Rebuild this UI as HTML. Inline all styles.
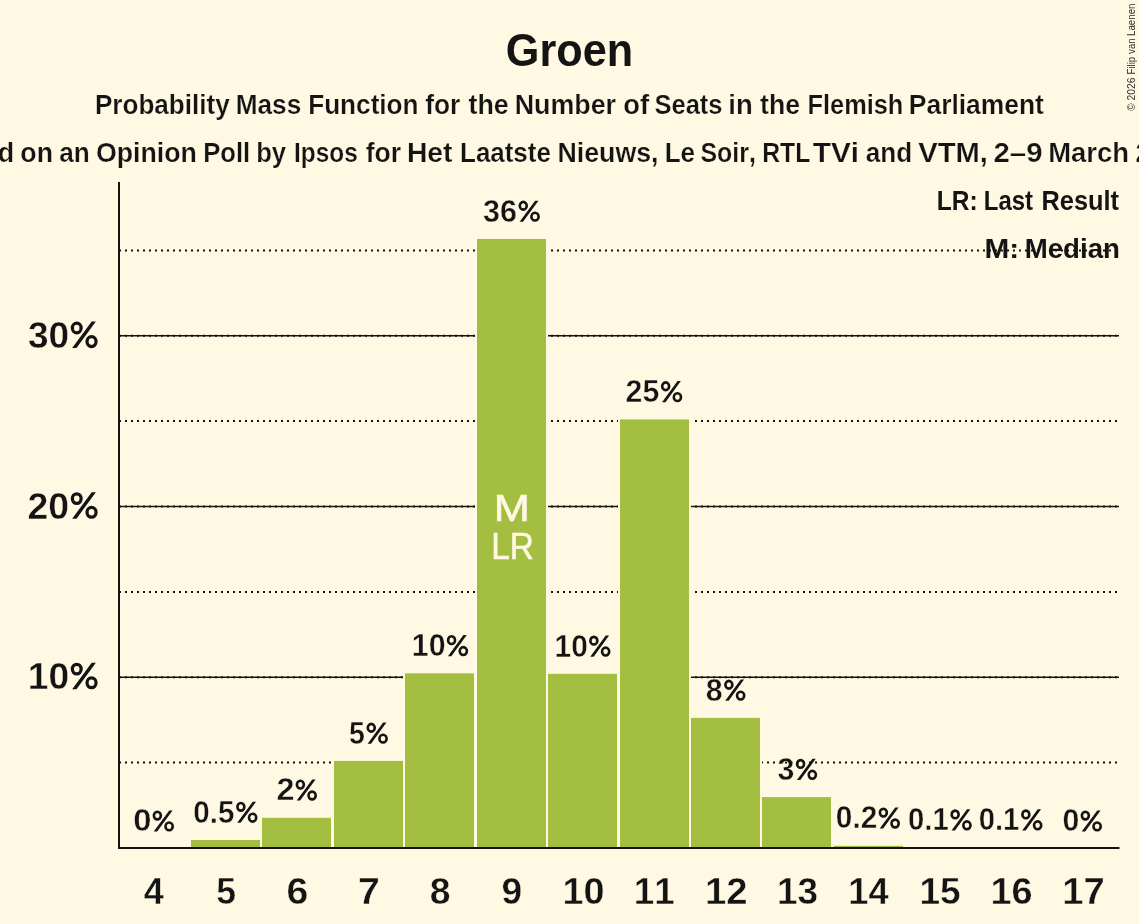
<!DOCTYPE html>
<html><head><meta charset="utf-8"><style>
html,body{margin:0;padding:0;background:#fff9e3;}
#w{will-change:transform;width:1139px;height:924px;overflow:hidden;}
svg{display:block;font-family:"Liberation Sans",sans-serif;font-kerning:none;}
</style></head><body><div id="w">
<svg width="1139" height="924" viewBox="0 0 1139 924">
<rect x="0" y="0" width="1139" height="924" fill="#fff9e3"/>
<line x1="119" y1="762.62" x2="1119" y2="762.62" stroke="#141414" stroke-width="2" stroke-dasharray="2 4"/>
<line x1="119" y1="591.88" x2="1119" y2="591.88" stroke="#141414" stroke-width="2" stroke-dasharray="2 4"/>
<line x1="119" y1="421.12" x2="1119" y2="421.12" stroke="#141414" stroke-width="2" stroke-dasharray="2 4"/>
<line x1="119" y1="250.38" x2="1119" y2="250.38" stroke="#141414" stroke-width="2" stroke-dasharray="2 4"/>
<line x1="119" y1="677.25" x2="1119" y2="677.25" stroke="#141414" stroke-width="1.6"/>
<line x1="119" y1="677.25" x2="1119" y2="677.25" stroke="#141414" stroke-width="2" stroke-dasharray="2 4"/>
<line x1="119" y1="506.50" x2="1119" y2="506.50" stroke="#141414" stroke-width="1.6"/>
<line x1="119" y1="506.50" x2="1119" y2="506.50" stroke="#141414" stroke-width="2" stroke-dasharray="2 4"/>
<line x1="119" y1="335.75" x2="1119" y2="335.75" stroke="#141414" stroke-width="1.6"/>
<line x1="119" y1="335.75" x2="1119" y2="335.75" stroke="#141414" stroke-width="2" stroke-dasharray="2 4"/>
<rect x="189.00" y="837.97" width="73.00" height="10.03" fill="#fff9e3"/>
<rect x="191.00" y="839.97" width="69.00" height="8.03" fill="#a3be41"/>
<rect x="260.00" y="815.78" width="73.00" height="32.22" fill="#fff9e3"/>
<rect x="262.00" y="817.78" width="69.00" height="30.22" fill="#a3be41"/>
<rect x="332.00" y="758.92" width="73.00" height="89.08" fill="#fff9e3"/>
<rect x="334.00" y="760.92" width="69.00" height="87.08" fill="#a3be41"/>
<rect x="403.00" y="671.32" width="73.00" height="176.68" fill="#fff9e3"/>
<rect x="405.00" y="673.32" width="69.00" height="174.68" fill="#a3be41"/>
<rect x="475.00" y="236.93" width="73.00" height="611.07" fill="#fff9e3"/>
<rect x="477.00" y="238.93" width="69.00" height="609.07" fill="#a3be41"/>
<rect x="546.00" y="671.84" width="73.00" height="176.16" fill="#fff9e3"/>
<rect x="548.00" y="673.84" width="69.00" height="174.16" fill="#a3be41"/>
<rect x="618.00" y="417.42" width="73.00" height="430.58" fill="#fff9e3"/>
<rect x="620.00" y="419.42" width="69.00" height="428.58" fill="#a3be41"/>
<rect x="689.00" y="715.89" width="73.00" height="132.11" fill="#fff9e3"/>
<rect x="691.00" y="717.89" width="69.00" height="130.11" fill="#a3be41"/>
<rect x="760.00" y="795.12" width="73.00" height="52.88" fill="#fff9e3"/>
<rect x="762.00" y="797.12" width="69.00" height="50.88" fill="#a3be41"/>
<rect x="832.00" y="843.78" width="73.00" height="4.22" fill="#fff9e3"/>
<rect x="834.00" y="845.78" width="69.00" height="2.22" fill="#a3be41"/>
<rect x="903.00" y="845.15" width="73.00" height="2.85" fill="#fff9e3"/>
<rect x="905.00" y="847.15" width="69.00" height="0.85" fill="#a3be41"/>
<rect x="975.00" y="845.15" width="73.00" height="2.85" fill="#fff9e3"/>
<rect x="977.00" y="847.15" width="69.00" height="0.85" fill="#a3be41"/>
<rect x="118" y="182" width="2" height="667" fill="#141414"/>
<rect x="118" y="847" width="1001.5" height="2" fill="#141414"/>
<text transform="translate(505.83 66.30) scale(0.8737 0.9500)" font-size="49.50" font-weight="bold" fill="#141414">Groen</text>
<text transform="translate(94.96 114.20) scale(0.8933 0.9450)" font-size="29.20" font-weight="bold" fill="#141414" stroke="#fff9e3" stroke-width="0.25">Probability</text>
<text transform="translate(235.75 114.20) scale(0.8971 0.9450)" font-size="29.20" font-weight="bold" fill="#141414" stroke="#fff9e3" stroke-width="0.25">Mass</text>
<text transform="translate(308.15 114.20) scale(0.8963 0.9450)" font-size="29.20" font-weight="bold" fill="#141414" stroke="#fff9e3" stroke-width="0.25">Function</text>
<text transform="translate(425.25 114.20) scale(0.9030 0.9450)" font-size="29.20" font-weight="bold" fill="#141414" stroke="#fff9e3" stroke-width="0.25">for</text>
<text transform="translate(468.47 114.20) scale(0.9188 0.9450)" font-size="29.20" font-weight="bold" fill="#141414" stroke="#fff9e3" stroke-width="0.25">the</text>
<text transform="translate(514.70 114.20) scale(0.9191 0.9450)" font-size="29.20" font-weight="bold" fill="#141414" stroke="#fff9e3" stroke-width="0.25">Number</text>
<text transform="translate(623.13 114.20) scale(0.9404 0.9450)" font-size="29.20" font-weight="bold" fill="#141414" stroke="#fff9e3" stroke-width="0.25">of</text>
<text transform="translate(654.46 114.20) scale(0.8737 0.9450)" font-size="29.20" font-weight="bold" fill="#141414" stroke="#fff9e3" stroke-width="0.25">Seats</text>
<text transform="translate(728.28 114.20) scale(0.9412 0.9450)" font-size="29.20" font-weight="bold" fill="#141414" stroke="#fff9e3" stroke-width="0.25">in</text>
<text transform="translate(760.08 114.20) scale(0.9118 0.9450)" font-size="29.20" font-weight="bold" fill="#141414" stroke="#fff9e3" stroke-width="0.25">the</text>
<text transform="translate(807.60 114.20) scale(0.8679 0.9450)" font-size="29.20" font-weight="bold" fill="#141414" stroke="#fff9e3" stroke-width="0.25">Flemish</text>
<text transform="translate(908.83 114.20) scale(0.9048 0.9450)" font-size="29.20" font-weight="bold" fill="#141414" stroke="#fff9e3" stroke-width="0.25">Parliament</text>
<text transform="translate(20.36 162.30) scale(0.9138 0.9450)" font-size="29.20" font-weight="bold" fill="#141414" stroke="#fff9e3" stroke-width="0.25">on</text>
<text transform="translate(59.23 162.30) scale(0.8946 0.9450)" font-size="29.20" font-weight="bold" fill="#141414" stroke="#fff9e3" stroke-width="0.25">an</text>
<text transform="translate(96.00 162.30) scale(0.9154 0.9450)" font-size="29.20" font-weight="bold" fill="#141414" stroke="#fff9e3" stroke-width="0.25">Opinion</text>
<text transform="translate(203.19 162.30) scale(0.8765 0.9450)" font-size="29.20" font-weight="bold" fill="#141414" stroke="#fff9e3" stroke-width="0.25">Poll</text>
<text transform="translate(256.21 162.30) scale(0.8783 0.9450)" font-size="29.20" font-weight="bold" fill="#141414" stroke="#fff9e3" stroke-width="0.25">by</text>
<text transform="translate(294.07 162.30) scale(0.8357 0.9450)" font-size="29.20" font-weight="bold" fill="#141414" stroke="#fff9e3" stroke-width="0.25">Ipsos</text>
<text transform="translate(365.65 162.30) scale(0.9109 0.9450)" font-size="29.20" font-weight="bold" fill="#141414" stroke="#fff9e3" stroke-width="0.25">for</text>
<text transform="translate(406.91 162.30) scale(0.9700 0.9450)" font-size="29.20" font-weight="bold" fill="#141414" stroke="#fff9e3" stroke-width="0.25">Het</text>
<text transform="translate(460.06 162.30) scale(0.8883 0.9450)" font-size="29.20" font-weight="bold" fill="#141414" stroke="#fff9e3" stroke-width="0.25">Laatste</text>
<text transform="translate(557.51 162.30) scale(0.9161 0.9450)" font-size="29.20" font-weight="bold" fill="#141414" stroke="#fff9e3" stroke-width="0.25">Nieuws,</text>
<text transform="translate(664.66 162.30) scale(0.8932 0.9450)" font-size="29.20" font-weight="bold" fill="#141414" stroke="#fff9e3" stroke-width="0.25">Le</text>
<text transform="translate(700.48 162.30) scale(0.8534 0.9450)" font-size="29.20" font-weight="bold" fill="#141414" stroke="#fff9e3" stroke-width="0.25">Soir,</text>
<text transform="translate(762.24 162.30) scale(0.8477 0.9450)" font-size="29.20" font-weight="bold" fill="#141414" stroke="#fff9e3" stroke-width="0.25">RTL</text>
<text transform="translate(812.77 162.30) scale(1.0202 0.9450)" font-size="29.20" font-weight="bold" fill="#141414" stroke="#fff9e3" stroke-width="0.25">TVi</text>
<text transform="translate(865.84 162.30) scale(0.8935 0.9450)" font-size="29.20" font-weight="bold" fill="#141414" stroke="#fff9e3" stroke-width="0.25">and</text>
<text transform="translate(918.20 162.30) scale(1.0001 0.9450)" font-size="29.20" font-weight="bold" fill="#141414" stroke="#fff9e3" stroke-width="0.25">VTM,</text>
<text transform="translate(993.48 162.30) scale(1.0059 0.9450)" font-size="29.20" font-weight="bold" fill="#141414" stroke="#fff9e3" stroke-width="0.25">2–9</text>
<text transform="translate(1048.27 162.30) scale(0.9387 0.9450)" font-size="29.20" font-weight="bold" fill="#141414" stroke="#fff9e3" stroke-width="0.25">March</text>
<text transform="translate(-66.56 162.3) scale(0.9200 0.9450)" font-size="29.20" font-weight="bold" fill="#141414" stroke="#fff9e3" stroke-width="0.25">Based</text>
<text transform="translate(1135.57 162.3) scale(0.9200 0.9450)" font-size="29.20" font-weight="bold" fill="#141414" stroke="#fff9e3" stroke-width="0.25">2026</text>
<text transform="translate(936.76 209.60) scale(0.8525 0.9450)" font-size="28.80" font-weight="bold" fill="#141414">LR:</text>
<text transform="translate(983.80 209.60) scale(0.8325 0.9450)" font-size="28.80" font-weight="bold" fill="#141414">Last</text>
<text transform="translate(1041.50 209.60) scale(0.8806 0.9450)" font-size="28.80" font-weight="bold" fill="#141414">Result</text>
<text transform="translate(984.41 257.50) scale(1.0317 0.9450)" font-size="28.80" font-weight="bold" fill="#141414">M:</text>
<text transform="translate(1024.75 257.50) scale(0.9592 0.9450)" font-size="28.80" font-weight="bold" fill="#141414">Median</text>
<text transform="translate(27.95 347.90) scale(0.9862 1.0000)" font-size="37.50" font-weight="bold" fill="#141414" stroke="#fff9e3" stroke-width="0.40">30</text><ellipse cx="76.74" cy="327.92" rx="4.39" ry="4.85" fill="none" stroke="#141414" stroke-width="3.27"/><ellipse cx="91.54" cy="341.61" rx="4.52" ry="4.91" fill="none" stroke="#141414" stroke-width="3.27"/><path d="M72.16 348.03L76.48 348.03L95.87 321.44L91.67 321.44Z" fill="#141414"/>
<text transform="translate(27.50 518.60) scale(0.9973 1.0000)" font-size="37.50" font-weight="bold" fill="#141414" stroke="#fff9e3" stroke-width="0.40">20</text><ellipse cx="76.74" cy="498.62" rx="4.39" ry="4.85" fill="none" stroke="#141414" stroke-width="3.27"/><ellipse cx="91.54" cy="512.31" rx="4.52" ry="4.91" fill="none" stroke="#141414" stroke-width="3.27"/><path d="M72.16 518.73L76.48 518.73L95.87 492.14L91.67 492.14Z" fill="#141414"/>
<text transform="translate(27.76 689.10) scale(0.9910 1.0000)" font-size="37.50" font-weight="bold" fill="#141414" stroke="#fff9e3" stroke-width="0.40">10</text><ellipse cx="76.74" cy="669.12" rx="4.39" ry="4.85" fill="none" stroke="#141414" stroke-width="3.27"/><ellipse cx="91.54" cy="682.81" rx="4.52" ry="4.91" fill="none" stroke="#141414" stroke-width="3.27"/><path d="M72.16 689.23L76.48 689.23L95.87 662.64L91.67 662.64Z" fill="#141414"/>
<text transform="translate(143.85 904.00) scale(0.9608 1.0000)" font-size="37.50" font-weight="bold" fill="#141414" stroke="#fff9e3" stroke-width="0.40">4</text>
<text transform="translate(216.21 904.00) scale(0.9486 1.0000)" font-size="37.50" font-weight="bold" fill="#141414" stroke="#fff9e3" stroke-width="0.40">5</text>
<text transform="translate(286.56 904.00) scale(1.0481 1.0000)" font-size="37.50" font-weight="bold" fill="#141414" stroke="#fff9e3" stroke-width="0.40">6</text>
<text transform="translate(358.02 904.00) scale(1.0457 1.0000)" font-size="37.50" font-weight="bold" fill="#141414" stroke="#fff9e3" stroke-width="0.40">7</text>
<text transform="translate(429.82 904.00) scale(0.9940 1.0000)" font-size="37.50" font-weight="bold" fill="#141414" stroke="#fff9e3" stroke-width="0.40">8</text>
<text transform="translate(501.41 904.00) scale(0.9910 1.0000)" font-size="37.50" font-weight="bold" fill="#141414" stroke="#fff9e3" stroke-width="0.40">9</text>
<text transform="translate(562.52 904.00) scale(1.0076 1.0000)" font-size="37.50" font-weight="bold" fill="#141414" stroke="#fff9e3" stroke-width="0.40">10</text>
<text transform="translate(633.68 904.00) scale(0.9816 1.0000)" font-size="37.50" font-weight="bold" fill="#141414" stroke="#fff9e3" stroke-width="0.40">11</text>
<text transform="translate(704.89 904.00) scale(1.0199 1.0000)" font-size="37.50" font-weight="bold" fill="#141414" stroke="#fff9e3" stroke-width="0.40">12</text>
<text transform="translate(776.97 904.00) scale(0.9844 1.0000)" font-size="37.50" font-weight="bold" fill="#141414" stroke="#fff9e3" stroke-width="0.40">13</text>
<text transform="translate(848.32 904.00) scale(0.9656 1.0000)" font-size="37.50" font-weight="bold" fill="#141414" stroke="#fff9e3" stroke-width="0.40">14</text>
<text transform="translate(919.47 904.00) scale(0.9868 1.0000)" font-size="37.50" font-weight="bold" fill="#141414" stroke="#fff9e3" stroke-width="0.40">15</text>
<text transform="translate(990.51 904.00) scale(1.0107 1.0000)" font-size="37.50" font-weight="bold" fill="#141414" stroke="#fff9e3" stroke-width="0.40">16</text>
<text transform="translate(1062.19 904.00) scale(1.0185 1.0000)" font-size="37.50" font-weight="bold" fill="#141414" stroke="#fff9e3" stroke-width="0.40">17</text>
<text transform="translate(133.20 831.40) scale(1.0741 1.0000)" font-size="30.50" font-weight="bold" fill="#141414" stroke="#fff9e3" stroke-width="0.40">0</text><ellipse cx="157.36" cy="815.54" rx="3.48" ry="3.85" fill="none" stroke="#141414" stroke-width="2.60"/><ellipse cx="169.11" cy="826.41" rx="3.59" ry="3.90" fill="none" stroke="#141414" stroke-width="2.60"/><path d="M153.72 831.50L157.15 831.50L172.54 810.39L169.22 810.39Z" fill="#141414"/>
<text transform="translate(193.33 822.67) scale(0.9687 1.0000)" font-size="30.50" font-weight="bold" fill="#141414" stroke="#fff9e3" stroke-width="0.40">0.5</text><ellipse cx="240.86" cy="806.81" rx="3.48" ry="3.85" fill="none" stroke="#141414" stroke-width="2.60"/><ellipse cx="252.61" cy="817.68" rx="3.59" ry="3.90" fill="none" stroke="#141414" stroke-width="2.60"/><path d="M237.22 822.78L240.65 822.78L256.04 801.67L252.72 801.67Z" fill="#141414"/>
<text transform="translate(276.38 800.48) scale(1.0610 1.0000)" font-size="30.50" font-weight="bold" fill="#141414" stroke="#fff9e3" stroke-width="0.40">2</text><ellipse cx="300.36" cy="784.62" rx="3.48" ry="3.85" fill="none" stroke="#141414" stroke-width="2.60"/><ellipse cx="312.11" cy="795.49" rx="3.59" ry="3.90" fill="none" stroke="#141414" stroke-width="2.60"/><path d="M296.72 800.58L300.15 800.58L315.54 779.47L312.22 779.47Z" fill="#141414"/>
<text transform="translate(348.92 743.62) scale(0.9344 1.0000)" font-size="30.50" font-weight="bold" fill="#141414" stroke="#fff9e3" stroke-width="0.40">5</text><ellipse cx="371.26" cy="727.76" rx="3.48" ry="3.85" fill="none" stroke="#141414" stroke-width="2.60"/><ellipse cx="383.01" cy="738.63" rx="3.59" ry="3.90" fill="none" stroke="#141414" stroke-width="2.60"/><path d="M367.62 743.72L371.05 743.72L386.44 722.61L383.12 722.61Z" fill="#141414"/>
<text transform="translate(411.79 656.02) scale(0.9944 1.0000)" font-size="30.50" font-weight="bold" fill="#141414" stroke="#fff9e3" stroke-width="0.40">10</text><ellipse cx="451.56" cy="640.16" rx="3.48" ry="3.85" fill="none" stroke="#141414" stroke-width="2.60"/><ellipse cx="463.31" cy="651.03" rx="3.59" ry="3.90" fill="none" stroke="#141414" stroke-width="2.60"/><path d="M447.92 656.13L451.35 656.13L466.74 635.01L463.42 635.01Z" fill="#141414"/>
<text transform="translate(483.10 221.63) scale(1.0018 1.0000)" font-size="30.50" font-weight="bold" fill="#141414" stroke="#fff9e3" stroke-width="0.40">36</text><ellipse cx="523.26" cy="205.77" rx="3.48" ry="3.85" fill="none" stroke="#141414" stroke-width="2.60"/><ellipse cx="535.01" cy="216.64" rx="3.59" ry="3.90" fill="none" stroke="#141414" stroke-width="2.60"/><path d="M519.62 221.74L523.05 221.74L538.44 200.63L535.12 200.63Z" fill="#141414"/>
<text transform="translate(554.62 656.54) scale(0.9781 1.0000)" font-size="30.50" font-weight="bold" fill="#141414" stroke="#fff9e3" stroke-width="0.40">10</text><ellipse cx="593.86" cy="640.68" rx="3.48" ry="3.85" fill="none" stroke="#141414" stroke-width="2.60"/><ellipse cx="605.61" cy="651.54" rx="3.59" ry="3.90" fill="none" stroke="#141414" stroke-width="2.60"/><path d="M590.22 656.64L593.65 656.64L609.04 635.53L605.72 635.53Z" fill="#141414"/>
<text transform="translate(625.55 402.12) scale(0.9925 1.0000)" font-size="30.50" font-weight="bold" fill="#141414" stroke="#fff9e3" stroke-width="0.40">25</text><ellipse cx="665.66" cy="386.26" rx="3.48" ry="3.85" fill="none" stroke="#141414" stroke-width="2.60"/><ellipse cx="677.41" cy="397.13" rx="3.59" ry="3.90" fill="none" stroke="#141414" stroke-width="2.60"/><path d="M662.02 402.22L665.45 402.22L680.84 381.11L677.52 381.11Z" fill="#141414"/>
<text transform="translate(705.64 700.59) scale(0.9949 1.0000)" font-size="30.50" font-weight="bold" fill="#141414" stroke="#fff9e3" stroke-width="0.40">8</text><ellipse cx="728.86" cy="684.73" rx="3.48" ry="3.85" fill="none" stroke="#141414" stroke-width="2.60"/><ellipse cx="740.61" cy="695.60" rx="3.59" ry="3.90" fill="none" stroke="#141414" stroke-width="2.60"/><path d="M725.22 700.69L728.65 700.69L744.04 679.58L740.72 679.58Z" fill="#141414"/>
<text transform="translate(777.50 779.82) scale(0.9947 1.0000)" font-size="30.50" font-weight="bold" fill="#141414" stroke="#fff9e3" stroke-width="0.40">3</text><ellipse cx="800.56" cy="763.96" rx="3.48" ry="3.85" fill="none" stroke="#141414" stroke-width="2.60"/><ellipse cx="812.31" cy="774.82" rx="3.59" ry="3.90" fill="none" stroke="#141414" stroke-width="2.60"/><path d="M796.92 779.92L800.35 779.92L815.74 758.81L812.42 758.81Z" fill="#141414"/>
<text transform="translate(835.82 828.48) scale(0.9777 1.0000)" font-size="30.50" font-weight="bold" fill="#141414" stroke="#fff9e3" stroke-width="0.40">0.2</text><ellipse cx="883.36" cy="812.62" rx="3.48" ry="3.85" fill="none" stroke="#141414" stroke-width="2.60"/><ellipse cx="895.11" cy="823.49" rx="3.59" ry="3.90" fill="none" stroke="#141414" stroke-width="2.60"/><path d="M879.72 828.58L883.15 828.58L898.54 807.47L895.22 807.47Z" fill="#141414"/>
<text transform="translate(908.04 830.30) scale(0.9588 1.0000)" font-size="30.50" font-weight="bold" fill="#141414" stroke="#fff9e3" stroke-width="0.40">0.1</text><ellipse cx="955.16" cy="814.44" rx="3.48" ry="3.85" fill="none" stroke="#141414" stroke-width="2.60"/><ellipse cx="966.91" cy="825.31" rx="3.59" ry="3.90" fill="none" stroke="#141414" stroke-width="2.60"/><path d="M951.52 830.40L954.95 830.40L970.34 809.29L967.02 809.29Z" fill="#141414"/>
<text transform="translate(978.74 830.30) scale(0.9588 1.0000)" font-size="30.50" font-weight="bold" fill="#141414" stroke="#fff9e3" stroke-width="0.40">0.1</text><ellipse cx="1025.86" cy="814.44" rx="3.48" ry="3.85" fill="none" stroke="#141414" stroke-width="2.60"/><ellipse cx="1037.61" cy="825.31" rx="3.59" ry="3.90" fill="none" stroke="#141414" stroke-width="2.60"/><path d="M1022.22 830.40L1025.65 830.40L1041.04 809.29L1037.72 809.29Z" fill="#141414"/>
<text transform="translate(1062.50 831.40) scale(0.9914 1.0000)" font-size="30.50" font-weight="bold" fill="#141414" stroke="#fff9e3" stroke-width="0.40">0</text><ellipse cx="1085.36" cy="815.54" rx="3.48" ry="3.85" fill="none" stroke="#141414" stroke-width="2.60"/><ellipse cx="1097.11" cy="826.41" rx="3.59" ry="3.90" fill="none" stroke="#141414" stroke-width="2.60"/><path d="M1081.72 831.50L1085.15 831.50L1100.54 810.39L1097.22 810.39Z" fill="#141414"/>
<text transform="translate(493.74 520.90) scale(1.1591 1.0000)" font-size="37.40" font-weight="normal" fill="#fff9e3" stroke="#fff9e3" stroke-width="0.6">M</text>
<text transform="translate(491.16 558.70) scale(0.8929 1.0000)" font-size="37.40" font-weight="normal" fill="#fff9e3" stroke="#fff9e3" stroke-width="0.6">LR</text>
<g transform="translate(1135.1 0) rotate(-90)"><text transform="translate(-111.06 0.00) scale(1.0275 1.0000)" font-size="10.20" font-weight="normal" fill="#2a2a2a">©</text><text transform="translate(-100.42 0.00) scale(1.0124 1.0000)" font-size="10.20" font-weight="normal" fill="#2a2a2a">2026</text><text transform="translate(-74.60 0.00) scale(0.9578 1.0000)" font-size="10.20" font-weight="normal" fill="#2a2a2a">Filip</text><text transform="translate(-53.93 0.00) scale(0.9461 1.0000)" font-size="10.20" font-weight="normal" fill="#2a2a2a">van</text><text transform="translate(-35.89 0.00) scale(0.9497 1.0000)" font-size="10.20" font-weight="normal" fill="#2a2a2a">Laenen</text></g>
</svg></div>
</body></html>
